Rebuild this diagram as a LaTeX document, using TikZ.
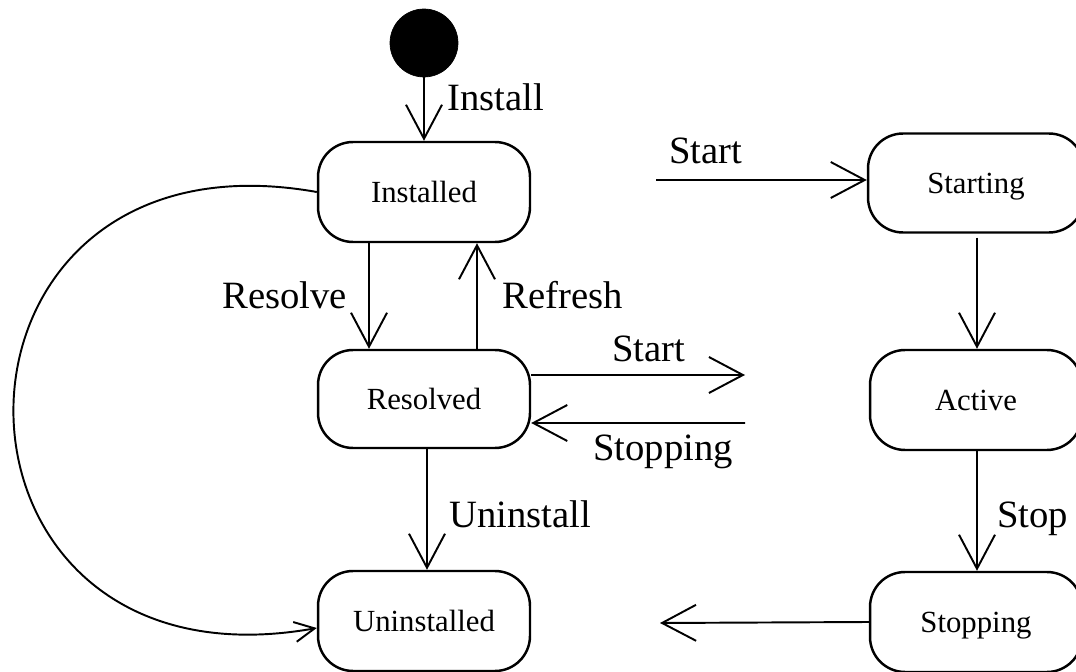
\documentclass[tikz,border=0pt]{standalone}
\usepackage{fontspec}
\setmainfont{Liberation Serif}
\usetikzlibrary{arrows.meta}
\begin{document}
\begin{tikzpicture}[x=0.02cm,y=-0.02cm,
  state/.style={draw,line width=1.4pt,rounded corners=0.7cm,minimum width=4.24cm,minimum height=2cm,inner sep=0pt,text height=11.6pt,text depth=0pt,font=\fontsize{17.5}{20}\selectfont},
  initst/.style={circle,fill=black,draw=black,minimum size=1.36cm,inner sep=0pt},
  tr/.style={line width=1.1pt,-{Straight Barb[length=0.68cm,width=0.72cm,line width=1.1pt]}},
  trsmall/.style={line width=1.1pt,-{Straight Barb[length=0.4cm,width=0.4cm,line width=1.1pt]}},
  lbl/.style={anchor=base west,inner sep=0pt,font=\fontsize{22}{26}\selectfont}]
\useasboundingbox (0,0) rectangle (1076,672);
\node[initst] (init) at (424,43) {};
\node[state] (inst) at (424,192) {Installed};
\node[state,minimum height=1.96cm] (res) at (424,399) {Resolved};
\node[state] (uninst) at (424,621) {Uninstalled};
\node[state,minimum width=4.32cm,minimum height=1.98cm] (starting) at (976,183) {Starting};
\node[state] (active) at (976,400) {Active};
\node[state] (stopping) at (976,622) {Stopping};
\coordinate (s1) at (656,180);
\coordinate (s2) at (745,375);
\coordinate (s3) at (745,423);
\coordinate (s4) at (660,623);
% transitions
\draw[tr] (init) -- (inst.north);
\draw[tr] ([xshift=-1.1cm]inst.south) -- ([xshift=-1.1cm]res.north);
\draw[tr] ([xshift=1.06cm]res.north) -- ([xshift=1.06cm]inst.south);
\draw[tr] ([xshift=0.06cm]res.south) -- ([xshift=0.06cm]uninst.south |- uninst.north);
\draw[tr] (s1) -- (s1 -| starting.west);
\draw[tr] ([yshift=0.48cm]res.east) -- (s2);
\draw[tr] (s3) -- ([yshift=-0.48cm]res.east);
\draw[tr] ([xshift=0.02cm,yshift=-0.08cm]starting.south) -- ([xshift=0.02cm]active.north);
\draw[tr] ([xshift=0.02cm]active.south) -- ([xshift=0.02cm]stopping.north);
\draw[tr] (stopping.west) -- (s4);
\draw[trsmall] (inst.west) .. controls +(-404,-72) and +(-404,72) .. ([yshift=-0.14cm]uninst.west);
% labels
\node[lbl] (lInstall) at (447,111) {Install};
\node[lbl] (lResolve) at (222,309) {Resolve};
\node[lbl] (lRefresh) at (502,309) {Refresh};
\node[lbl] (lStart1) at (669,164) {Start};
\node[lbl] (lStart2) at (612,362) {Start};
\node[lbl] (lStopping) at (593,460) {Stopping};
\node[lbl] (lUninstall) at (449,527) {Uninstall};
\node[lbl] (lStop) at (997,527) {Stop};
\end{tikzpicture}
\end{document}
